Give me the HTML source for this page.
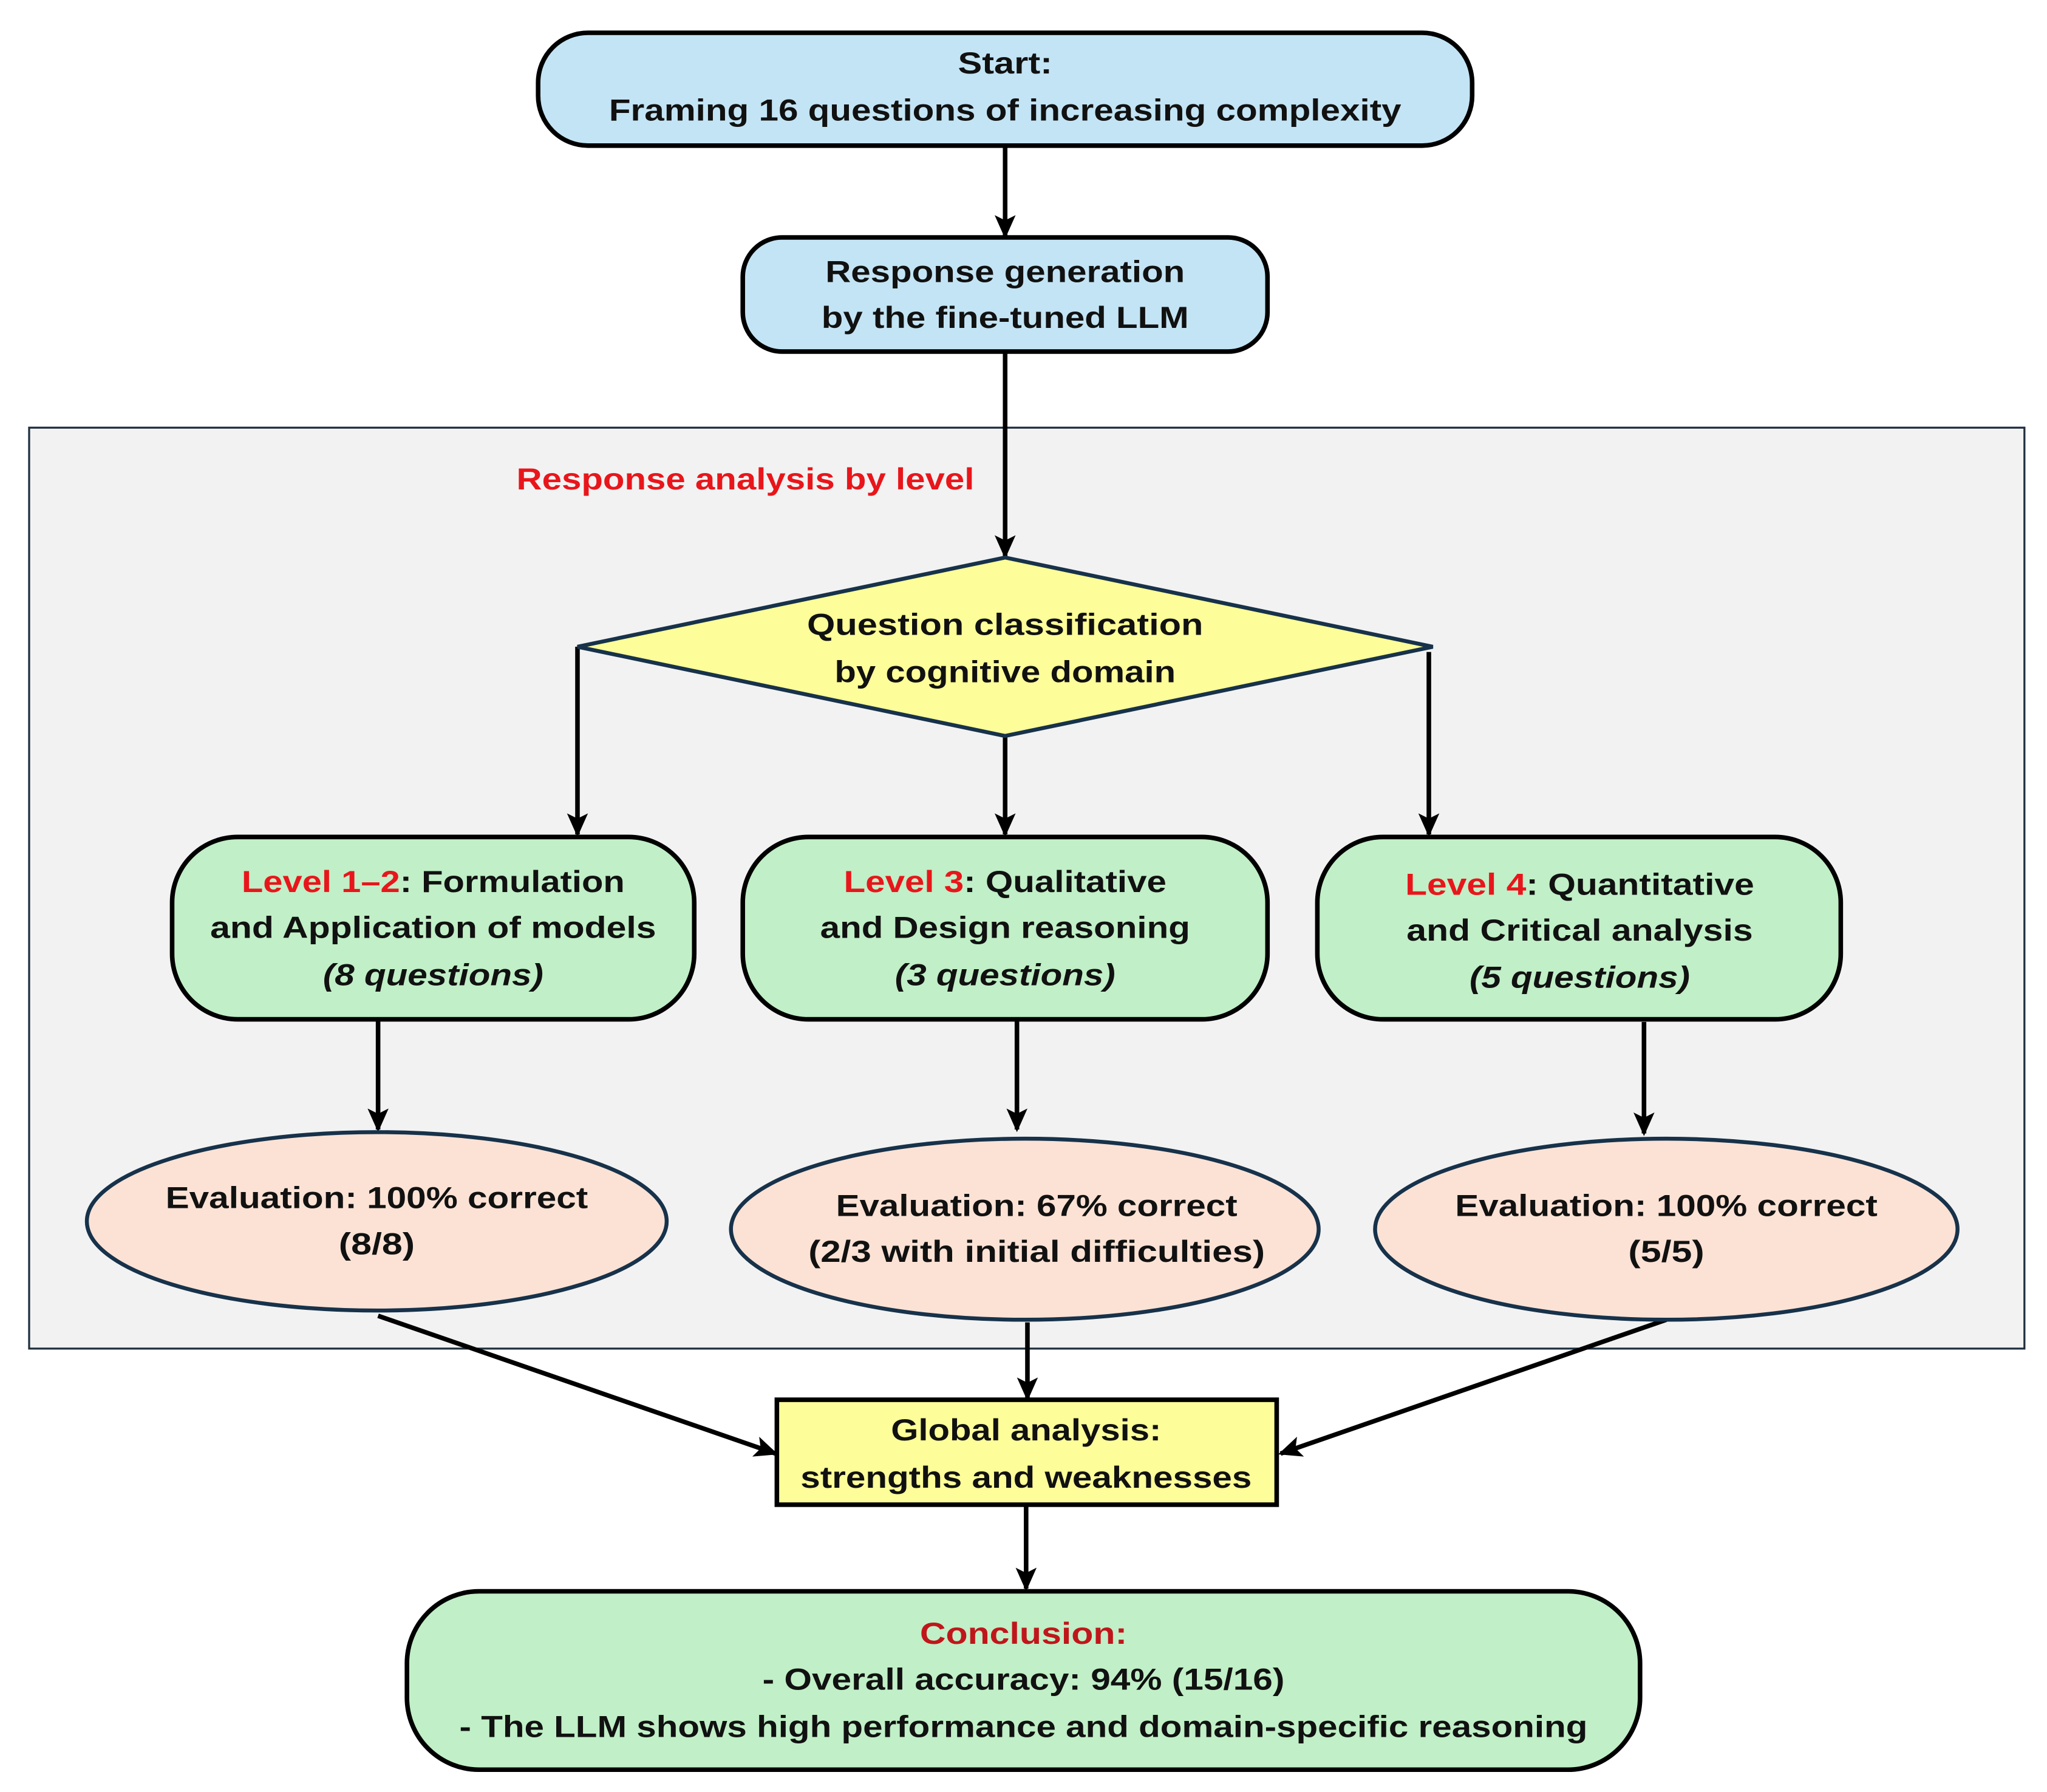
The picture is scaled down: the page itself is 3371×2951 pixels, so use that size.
<!DOCTYPE html>
<html><head><meta charset="utf-8"><style>html,body{margin:0;padding:0;background:#fff}svg{display:block}</style></head>
<body>
<svg width="3371" height="2951" viewBox="0 0 1560 1366" xmlns="http://www.w3.org/2000/svg" font-family="Liberation Sans, sans-serif" font-weight="bold" font-size="23" text-anchor="middle">
<defs>
<marker id="b" markerWidth="18" markerHeight="16" refX="16" refY="8" orient="auto" markerUnits="userSpaceOnUse"><path d="M0,0 L18,8 L0,16 L4,8 z" fill="#000"/></marker>
</defs>
<rect width="1560" height="1366" fill="#fff"/>
<rect x="22" y="326" width="1521" height="702" fill="#f2f2f2" stroke="#1f2f3f" stroke-width="1.5"/>
<g stroke="#000" stroke-width="3.5" fill="none">
<line x1="766" y1="111" x2="766" y2="180" marker-end="url(#b)"/>
<line x1="766" y1="268" x2="766" y2="424" marker-end="url(#b)"/>
<line x1="440" y1="493" x2="440" y2="636" marker-end="url(#b)"/>
<line x1="766" y1="561" x2="766" y2="636" marker-end="url(#b)"/>
<line x1="1089" y1="497" x2="1089" y2="636" marker-end="url(#b)"/>
<line x1="288" y1="777" x2="288" y2="861" marker-end="url(#b)"/>
<line x1="775" y1="777" x2="775" y2="861" marker-end="url(#b)"/>
<line x1="1253" y1="779" x2="1253" y2="864" marker-end="url(#b)"/>
<line x1="288" y1="1003" x2="591" y2="1108" marker-end="url(#b)"/>
<line x1="783" y1="1008" x2="783" y2="1066" marker-end="url(#b)"/>
<line x1="1270" y1="1006" x2="976" y2="1108" marker-end="url(#b)"/>
<line x1="782" y1="1148" x2="782" y2="1211" marker-end="url(#b)"/>
</g>
<rect x="410" y="25" width="712" height="86" rx="38" fill="#c3e4f4" stroke="#000" stroke-width="3.5"/>
<rect x="566" y="181" width="400" height="87" rx="30" fill="#c3e4f4" stroke="#000" stroke-width="3.5"/>
<polygon points="766,425 1092,493 766,561 440,493" fill="#fdfd99" stroke="#17324a" stroke-width="3"/>
<rect x="131" y="638" width="398" height="139" rx="50" fill="#c1efc7" stroke="#000" stroke-width="3.5"/>
<rect x="566" y="638" width="400" height="139" rx="50" fill="#c1efc7" stroke="#000" stroke-width="3.5"/>
<rect x="1004" y="638" width="399" height="139" rx="50" fill="#c1efc7" stroke="#000" stroke-width="3.5"/>
<ellipse cx="287" cy="931" rx="221" ry="68" fill="#fbe2d5" stroke="#17324a" stroke-width="3"/>
<ellipse cx="781" cy="937" rx="224" ry="69" fill="#fbe2d5" stroke="#17324a" stroke-width="3"/>
<ellipse cx="1270" cy="937" rx="222" ry="69" fill="#fbe2d5" stroke="#17324a" stroke-width="3"/>
<rect x="592" y="1067" width="381" height="80" fill="#fdfd99" stroke="#000" stroke-width="3.5"/>
<rect x="310" y="1213" width="940" height="136" rx="55" fill="#c1efc7" stroke="#000" stroke-width="3.5"/>
<g fill="#111">
<text x="766" y="56" textLength="72" lengthAdjust="spacingAndGlyphs">Start:</text>
<text x="766" y="92" textLength="604" lengthAdjust="spacingAndGlyphs">Framing 16 questions of increasing complexity</text>
<text x="766" y="215" textLength="274" lengthAdjust="spacingAndGlyphs">Response generation</text>
<text x="766" y="250" textLength="280" lengthAdjust="spacingAndGlyphs">by the fine-tuned LLM</text>
<text x="568" y="373" fill="#e8161b" textLength="349" lengthAdjust="spacingAndGlyphs">Response analysis by level</text>
<text x="766" y="484" textLength="302" lengthAdjust="spacingAndGlyphs">Question classification</text>
<text x="766" y="520" textLength="260" lengthAdjust="spacingAndGlyphs">by cognitive domain</text>
<text x="330" y="680" textLength="292" lengthAdjust="spacingAndGlyphs"><tspan fill="#e8161b">Level 1–2</tspan>: Formulation</text>
<text x="330" y="715" textLength="340" lengthAdjust="spacingAndGlyphs">and Application of models</text>
<text x="330" y="751" font-style="italic" textLength="168" lengthAdjust="spacingAndGlyphs">(8 questions)</text>
<text x="766" y="680" textLength="246" lengthAdjust="spacingAndGlyphs"><tspan fill="#e8161b">Level 3</tspan>: Qualitative</text>
<text x="766" y="715" textLength="282" lengthAdjust="spacingAndGlyphs">and Design reasoning</text>
<text x="766" y="751" font-style="italic" textLength="168" lengthAdjust="spacingAndGlyphs">(3 questions)</text>
<text x="1204" y="682" textLength="266" lengthAdjust="spacingAndGlyphs"><tspan fill="#e8161b">Level 4</tspan>: Quantitative</text>
<text x="1204" y="717" textLength="264" lengthAdjust="spacingAndGlyphs">and Critical analysis</text>
<text x="1204" y="753" font-style="italic" textLength="168" lengthAdjust="spacingAndGlyphs">(5 questions)</text>
<text x="287" y="921" textLength="322" lengthAdjust="spacingAndGlyphs">Evaluation: 100% correct</text>
<text x="287" y="956" textLength="58" lengthAdjust="spacingAndGlyphs">(8/8)</text>
<text x="790" y="927" textLength="306" lengthAdjust="spacingAndGlyphs">Evaluation: 67% correct</text>
<text x="790" y="962" textLength="348" lengthAdjust="spacingAndGlyphs">(2/3 with initial difficulties)</text>
<text x="1270" y="927" textLength="322" lengthAdjust="spacingAndGlyphs">Evaluation: 100% correct</text>
<text x="1270" y="962" textLength="58" lengthAdjust="spacingAndGlyphs">(5/5)</text>
<text x="782" y="1098" textLength="206" lengthAdjust="spacingAndGlyphs">Global analysis:</text>
<text x="782" y="1134" textLength="344" lengthAdjust="spacingAndGlyphs">strengths and weaknesses</text>
<text x="780" y="1253" fill="#c0161b" textLength="158" lengthAdjust="spacingAndGlyphs">Conclusion:</text>
<text x="780" y="1288" textLength="398" lengthAdjust="spacingAndGlyphs">- Overall accuracy: 94% (15/16)</text>
<text x="780" y="1324" textLength="860" lengthAdjust="spacingAndGlyphs">- The LLM shows high performance and domain-specific reasoning</text>
</g>
</svg>
</body></html>
